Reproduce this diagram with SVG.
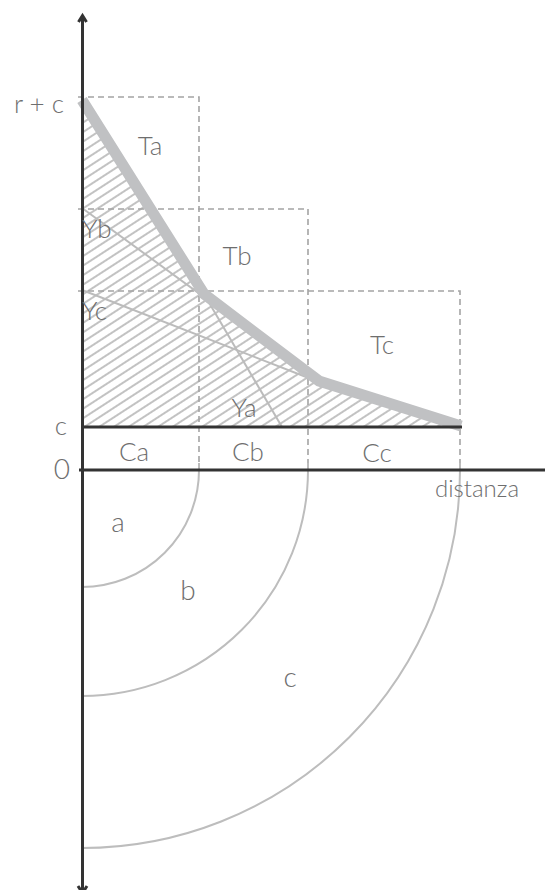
<svg xmlns="http://www.w3.org/2000/svg" width="552" height="890" viewBox="0 0 552 890">
  <style>
    .lbl { font-family: Lato, "Open Sans", "Liberation Sans", sans-serif; font-weight: 300; fill: #6e6e6e; }
    .t26 { font-size: 26px; }
    .t28 { font-size: 28px; }
    .dash { fill: none; stroke: #a4a4a4; stroke-width: 1.6; stroke-dasharray: 6 4; }
    .axis { fill: none; stroke: #333; stroke-width: 3; }
    .thin { fill: none; stroke: #bcbcbc; stroke-width: 2; }
    .arc { fill: none; stroke: #bdbdbd; stroke-width: 2; }
  </style>
  <defs>
    <pattern id="hatch" patternUnits="userSpaceOnUse" width="8" height="8" patternTransform="rotate(-33)">
      <line x1="0" y1="4" x2="8" y2="4" stroke="#777" stroke-width="0.9"/>
    </pattern>
  </defs>
  <rect width="552" height="890" fill="#fff"/>

  <g id="hatched-area">
    <polygon points="82,100 204,294 319,381 461,426 82,426" fill="url(#hatch)"/>
  </g>

  <g id="boxes">
    <polyline class="dash" points="78,97 199,97 199,470"/>
    <polyline class="dash" points="78,209 308,209 308,470"/>
    <polyline class="dash" points="78,291 460,291 460,470"/>
  </g>

  <g id="arcs">
    <path id="arc-a" class="arc" d="M199,463 L199,470 A117,117 0 0 1 82,587"/>
    <path id="arc-b" class="arc" d="M308,463 L308,470 A226,226 0 0 1 82,696"/>
    <path id="arc-c" class="arc" d="M460,463 L460,470 A378,378 0 0 1 82,848"/>
  </g>

  <g id="connectors">
    <line id="line-Yb" class="thin" x1="82" y1="208" x2="319" y2="381"/>
    <line id="line-Yc" class="thin" x1="82" y1="290" x2="319" y2="382"/>
    <line id="line-Ya" class="thin" x1="204" y1="294" x2="282" y2="427"/>
    <polyline id="curve" points="82,100 204,294 319,381 461,426" fill="none" stroke="#c0c1c3" stroke-width="11" stroke-linejoin="miter"/>
  </g>

  <g id="axes">
    <line class="axis" x1="82.5" y1="16" x2="82.5" y2="890"/>
    <polyline class="axis" stroke-width="2.5" points="78.5,22 82.5,15.5 86.5,22"/>
    <polyline class="axis" stroke-width="2.5" points="78,886 82.5,893 87,886"/>
    <line class="axis" x1="82" y1="427" x2="462" y2="427"/>
    <line class="axis" x1="79" y1="470" x2="545" y2="470"/>
  </g>

  <g id="labels">
    <text class="lbl t26" x="64" y="113" text-anchor="end">r + c</text>
    <text class="lbl t26" x="67" y="435" text-anchor="end">c</text>
    <text class="lbl t28" x="70" y="479" text-anchor="end">0</text>
    <text class="lbl t26" x="150" y="155" text-anchor="middle">Ta</text>
    <text class="lbl t26" x="237" y="265" text-anchor="middle">Tb</text>
    <text class="lbl t26" x="382" y="354" text-anchor="middle">Tc</text>
    <text class="lbl t26" x="82" y="238">Yb</text>
    <text class="lbl t26" x="82" y="320">Yc</text>
    <text class="lbl t26" x="244" y="417" text-anchor="middle">Ya</text>
    <text class="lbl t26" x="134" y="461" text-anchor="middle">Ca</text>
    <text class="lbl t26" x="248" y="461" text-anchor="middle">Cb</text>
    <text class="lbl t26" x="377" y="462" text-anchor="middle">Cc</text>
    <text class="lbl" font-size="24" x="435" y="497">distanza</text>
    <text class="lbl t28" x="118" y="532" text-anchor="middle">a</text>
    <text class="lbl t28" x="188" y="600" text-anchor="middle">b</text>
    <text class="lbl t28" x="290" y="687" text-anchor="middle">c</text>
  </g>
</svg>
